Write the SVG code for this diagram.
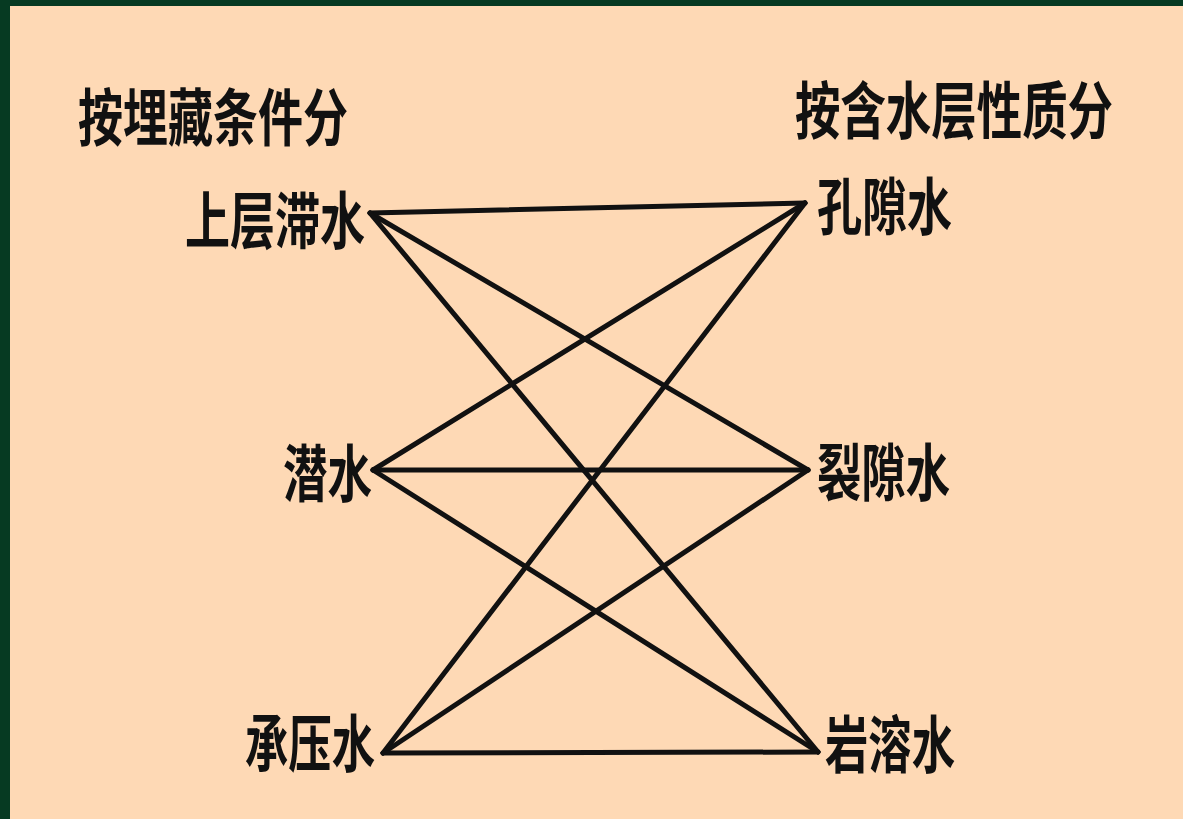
<svg xmlns="http://www.w3.org/2000/svg" width="1183" height="819" viewBox="0 0 1183 819">
<style>
.t{font-family:"Noto Sans CJK SC","Noto Sans CJK JP",sans-serif;font-weight:bold;font-size:46px;fill:#111}
.c{stroke:#111;stroke-width:5;stroke-linecap:round;fill:none}
</style>
<rect x="0" y="0" width="1183" height="819" fill="#fed9b5"/>
<rect x="0" y="0" width="1183" height="6" fill="#063a22"/>
<rect x="0" y="0" width="10" height="819" fill="#063a22"/>
<g id="title-left" transform="translate(78,141) scale(1,1.35)"><text class="t" x="0" y="0" textLength="270" lengthAdjust="spacingAndGlyphs">按埋藏条件分</text></g>
<g id="title-right" transform="translate(795,134) scale(1,1.35)"><text class="t" x="0" y="0" textLength="318" lengthAdjust="spacingAndGlyphs">按含水层性质分</text></g>
<g id="n-shangceng" transform="translate(185,244) scale(1,1.35)"><text class="t" x="0" y="0" textLength="180" lengthAdjust="spacingAndGlyphs">上层滞水</text></g>
<g id="n-qianshui" transform="translate(283,497) scale(1,1.35)"><text class="t" x="0" y="0" textLength="89" lengthAdjust="spacingAndGlyphs">潜水</text></g>
<g id="n-chengya" transform="translate(245,767) scale(1,1.35)"><text class="t" x="0" y="0" textLength="130" lengthAdjust="spacingAndGlyphs">承压水</text></g>
<g id="n-kongxi" transform="translate(817,230) scale(1,1.35)"><text class="t" x="0" y="0" textLength="135" lengthAdjust="spacingAndGlyphs">孔隙水</text></g>
<g id="n-liexi" transform="translate(817,496) scale(1,1.35)"><text class="t" x="0" y="0" textLength="133" lengthAdjust="spacingAndGlyphs">裂隙水</text></g>
<g id="n-yanrong" transform="translate(825,768) scale(1,1.35)"><text class="t" x="0" y="0" textLength="130" lengthAdjust="spacingAndGlyphs">岩溶水</text></g>
<g id="connectors">
<line class="c" x1="370" y1="213" x2="805" y2="203"/>
<line class="c" x1="370" y1="213" x2="808" y2="470"/>
<line class="c" x1="370" y1="213" x2="818" y2="752"/>
<line class="c" x1="373" y1="470" x2="805" y2="203"/>
<line class="c" x1="373" y1="470" x2="808" y2="470"/>
<line class="c" x1="373" y1="470" x2="818" y2="752"/>
<line class="c" x1="383" y1="753" x2="805" y2="203"/>
<line class="c" x1="383" y1="753" x2="808" y2="470"/>
<line class="c" x1="383" y1="753" x2="818" y2="752"/>
</g>
</svg>
